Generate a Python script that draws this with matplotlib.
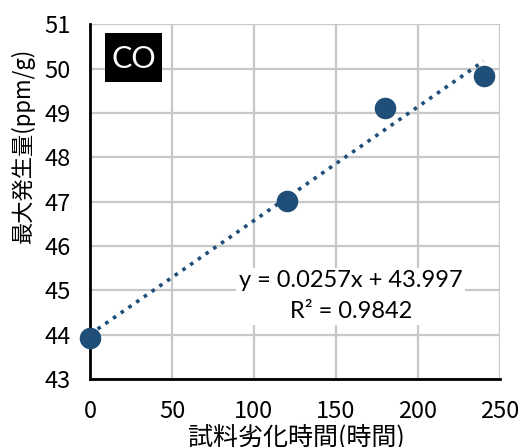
import numpy as np
import matplotlib
matplotlib.use("Agg")
import matplotlib.pyplot as plt
import matplotlib.patches as patches

plt.rcParams['font.family'] = ['Liberation Sans Narrow', 'Noto Sans CJK JP', 'DejaVu Sans']

# data
hours = [0, 120, 180, 240]
max_gen = [43.92, 47.02, 49.10, 49.84]
x_ticks = [0, 50, 100, 150, 200, 250]
y_ticks = [43, 44, 45, 46, 47, 48, 49, 50, 51]
eq_text = "y = 0.0257x + 43.997\nR² = 0.9842"
label_text = "CO"

blue = '#1f4e79'

fig = plt.figure(figsize=(5.29, 4.47), dpi=100)
ax = fig.add_axes([0.170, 0.152, 0.775, 0.794])

# trendline
coef = np.polyfit(hours, max_gen, 1)
xs = np.array([hours[0], hours[-1]])
ax.plot(xs, np.polyval(coef, xs), linestyle=(0, (1, 1.6)), color=blue, lw=2.6, zorder=3)

ax.plot(hours, max_gen, 'o', color=blue, markersize=14.5, zorder=4, clip_on=False)

ax.set_xlim(0, 250)
ax.set_ylim(43, 51)
ax.set_xticks(x_ticks)
ax.set_yticks(y_ticks)
ax.grid(True, color='#c8c8c8', lw=1.6)
ax.set_axisbelow(True)
for s in ['top', 'right']:
    ax.spines[s].set_visible(False)
for s in ['left', 'bottom']:
    ax.spines[s].set_linewidth(2)
    ax.spines[s].set_color('black')
ax.tick_params(length=0, labelsize=17, pad=14)
ax.tick_params(axis='x', pad=15)

ax.set_xlabel("試料劣化時間(時間)", fontsize=18, family=['Noto Sans CJK JP'])
ax.xaxis.set_label_coords(0.503, -0.127)
ax.set_ylabel("最大発生量(ppm/g)", fontsize=16, family=['Noto Sans CJK JP'])
ax.yaxis.set_label_coords(-0.134, 0.659)

ax.text(159, 44.87, eq_text, fontsize=17, family=['Lato', 'DejaVu Sans'],
        ha='center', va='center', linespacing=1.55,
        bbox=dict(facecolor='white', edgecolor='none', pad=2), zorder=5)

# black label box
box = patches.Rectangle((0.037, 0.837), 0.139, 0.138, transform=ax.transAxes,
                        facecolor='black', edgecolor='none', zorder=5, clip_on=False)
ax.add_patch(box)
ax.text(0.106, 0.903, label_text, transform=ax.transAxes, fontsize=22, color='white',
        family=['Lato', 'DejaVu Sans'], ha='center', va='center', zorder=6)

fig.savefig('out.png', dpi=100)
